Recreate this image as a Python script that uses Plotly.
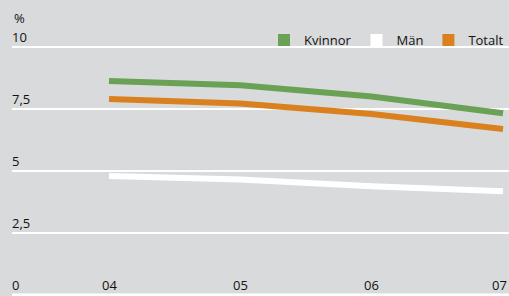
import plotly.graph_objects as go

years = ["04", "05", "06", "07"]
x_pos = [0, 1, 2, 3]
kvinnor = [8.63, 8.46, 8.0, 7.32]
man = [4.79, 4.65, 4.37, 4.17]
totalt = [7.9, 7.72, 7.29, 6.69]
y_ticks = [0, 2.5, 5, 7.5, 10]
y_labels = ["0", "2,5", "5", "7,5", "10"]

GREEN = "rgb(106,161,84)"
WHITE = "#ffffff"
ORANGE = "rgb(218,128,30)"
BG = "#d9dadb"
FONT = "Open Sans"
TXT = "#111111"
FS = 13

fig = go.Figure()
for name, vals, col in [("Kvinnor", kvinnor, GREEN), ("Män", man, WHITE), ("Totalt", totalt, ORANGE)]:
    fig.add_trace(go.Scatter(x=x_pos, y=vals, mode="lines", name=name, showlegend=False,
                             line=dict(color=col, width=6), legendgroup=name, hoverinfo="skip"))
for name, col in [("Kvinnor", GREEN), ("Män", WHITE), ("Totalt", ORANGE)]:
    fig.add_trace(go.Bar(x=[None], y=[None], name=name, marker=dict(color=col, line=dict(width=0)),
                         legendgroup=name, showlegend=True))

annotations = [dict(text="%", xref="paper", yref="paper", x=0, y=1 - 18/296,
                    xanchor="left", yanchor="middle", showarrow=False,
                    font=dict(size=FS, family=FONT, color=TXT))]
for i, (xv, lab) in enumerate(zip(x_pos, years)):
    annotations.append(dict(text=lab, x=xv, xref="x", y=0, yref="paper", xanchor="center",
                            yanchor="bottom", yshift=0, xshift=(-4 if i == len(years) - 1 else 0),
                            showarrow=False, font=dict(size=FS, family=FONT, color=TXT)))

fig.update_layout(
    width=509, height=296,
    margin=dict(l=12, r=0, t=0, b=0),
    paper_bgcolor=BG, plot_bgcolor=BG,
    font=dict(family=FONT, size=FS, color=TXT),
    showlegend=True,
    legend=dict(orientation="h", x=1.0, xanchor="right", y=0.915, yanchor="top",
                bgcolor="rgba(0,0,0,0)", font=dict(size=FS, color=TXT), itemwidth=30,
                traceorder="normal"),
    xaxis=dict(type="linear", range=[-0.7386, 3.0457], showticklabels=False,
               showgrid=False, zeroline=False, showline=False, ticks="", fixedrange=True),
    yaxis=dict(type="linear", range=[-0.06, 11.90], tickvals=y_ticks, ticktext=y_labels,
               showgrid=True, gridcolor="white", gridwidth=2,
               zeroline=False, showline=False, tickfont=dict(size=FS, color=TXT),
               ticks="", ticklabelposition="inside top", ticklabelstandoff=-3, fixedrange=True),
    annotations=annotations,
)
fig.add_hline(y=y_ticks[0], line=dict(color="white", width=2), layer="below")
fig.write_html("out.html", config={"displayModeBar": False},
               post_script="document.body.style.margin='0';document.body.style.overflow='hidden';")
